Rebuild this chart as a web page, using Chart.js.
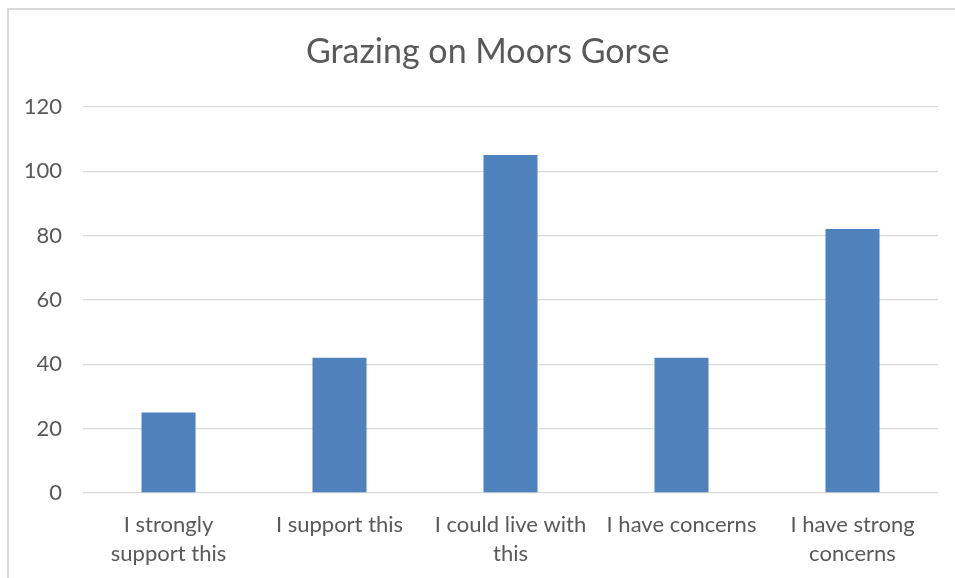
<!DOCTYPE html>
<html lang="en">
<head>
    <meta charset="UTF-8">
    <title>Grazing on Moors Gorse</title>
    <style>
        body { margin: 0; background-color: #ffffff; }
        .frame { position: absolute; left: 7px; top: 8px; width: 948px; height: 570px; border-left: 2px solid #d9d9d9; border-top: 2px solid #d9d9d9; box-sizing: border-box; }
        .chart-container { position: absolute; left: 0; top: 0; width: 955px; height: 578px; }
    </style>
</head>
<body>
    <div class="frame"></div>
    <div class="chart-container"><canvas id="gorseChart" width="955" height="578"></canvas></div>

    <script src="https://cdn.jsdelivr.net/npm/chart.js"></script>
    <script>
        const categories = [
            ['I strongly', 'support this'],
            'I support this',
            ['I could live with', 'this'],
            'I have concerns',
            ['I have strong', 'concerns']
        ];
        const responses = [25, 42, 105, 42, 82];
        const yTicks = [0, 20, 40, 60, 80, 100, 120];

        const textColor = '#595959';
        const fontFamily = 'Lato, "Open Sans", sans-serif';

        // title box spans padding..right edge, so lead with spaces to nudge it right like the original
        const chart = new Chart(document.getElementById('gorseChart').getContext('2d'), {
            type: 'bar',
            data: {
                labels: categories,
                datasets: [{
                    label: 'Responses',
                    data: responses,
                    backgroundColor: '#4f81bd',
                    categoryPercentage: 1,
                    barPercentage: 0.316
                }]
            },
            options: {
                responsive: false,
                animation: false,
                layout: { padding: { left: 20, right: 17, top: 30, bottom: 0 } },
                plugins: {
                    legend: { display: false },
                    tooltip: { enabled: false },
                    title: {
                        display: true,
                        text: '  Grazing on Moors Gorse',
                        color: textColor,
                        font: { family: fontFamily, size: 34, weight: 'normal' },
                        padding: { top: 2, bottom: 34 }
                    }
                },
                scales: {
                    x: {
                        grid: { display: false },
                        border: { display: false },
                        ticks: {
                            color: textColor,
                            font: { family: fontFamily, size: 22, lineHeight: 1.32 },
                            padding: 9,
                            maxRotation: 0,
                            autoSkip: false
                        },
                        afterFit: s => { s.height = 85; }
                    },
                    y: {
                        min: 0,
                        max: 120,
                        afterBuildTicks: s => { s.ticks = yTicks.map(v => ({ value: v })); },
                        grid: { color: '#d9d9d9', lineWidth: 1.3, drawTicks: false },
                        border: { display: false },
                        ticks: {
                            color: textColor,
                            font: { family: fontFamily, size: 22 },
                            padding: 21
                        },
                        afterFit: s => { s.width = 63; }
                    }
                }
            }
        });
    </script>
</body>
</html>
